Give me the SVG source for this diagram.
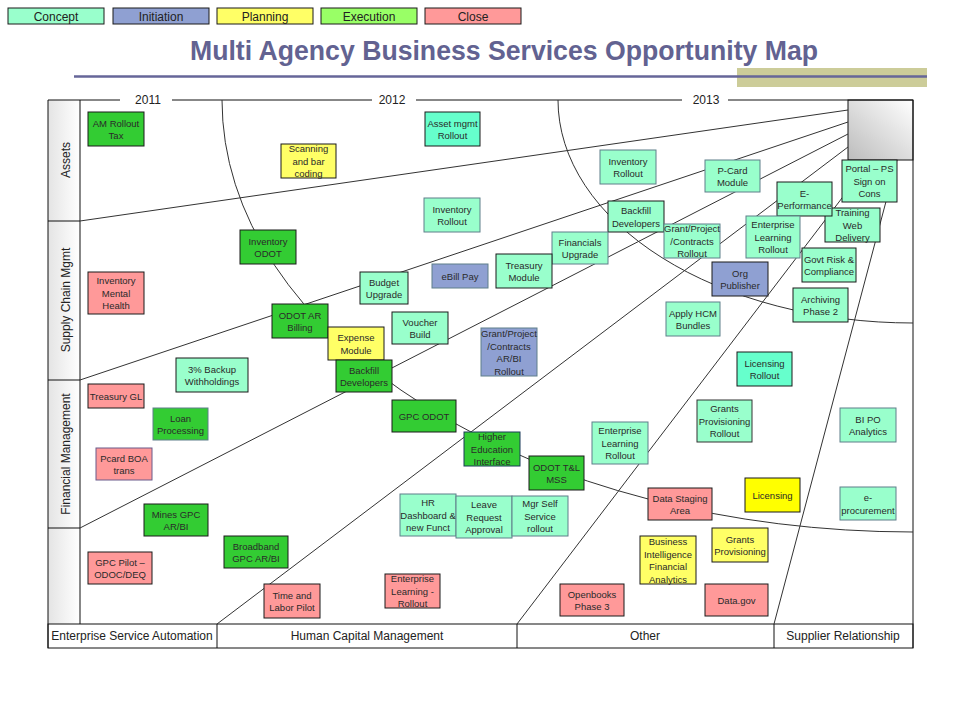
<svg xmlns="http://www.w3.org/2000/svg" width="960" height="720" viewBox="0 0 960 720">
<defs>
<linearGradient id="gBar" x1="0" y1="0" x2="0" y2="1"><stop offset="0" stop-color="#ffffff"/><stop offset="1" stop-color="#dedede"/></linearGradient>
<linearGradient id="gCol" x1="0" y1="0" x2="1" y2="0"><stop offset="0" stop-color="#e4e4e4"/><stop offset="1" stop-color="#ffffff"/></linearGradient>
<linearGradient id="gBox" x1="1" y1="0" x2="0" y2="1"><stop offset="0" stop-color="#ffffff"/><stop offset="1" stop-color="#bcbcbc"/></linearGradient>
</defs>
<style>
.t{font-family:"Liberation Sans",Arial,sans-serif;font-size:9.5px;fill:#2a2a2a;text-anchor:middle}
.lab{font-family:"Liberation Sans",Arial,sans-serif;font-size:12px;fill:#222;text-anchor:middle}
.leg{font-family:"Liberation Sans",Arial,sans-serif;font-size:12px;fill:#222;text-anchor:middle}
.ln{fill:none;stroke:#333;stroke-width:1}
.fr{fill:none;stroke:#111;stroke-width:1}
rect.ex{fill:#33cc33}
rect.co{fill:#99ffcc}
rect.co2{fill:#66ffcc}
rect.in{fill:#8fa0d2}
rect.pl{fill:#ffff66}
rect.pl2{fill:#ffff00}
rect.cl{fill:#ff9999}
rect.dk{stroke:#1a1a1a;stroke-width:1}
rect.gr{stroke:#5f7f8a;stroke-width:1}
</style>
<rect x="0" y="0" width="960" height="720" fill="#ffffff"/>

<g id="legend">
<rect x="8" y="8" width="96" height="16" class="co dk"/><text class="leg" x="56" y="20.5">Concept</text>
<rect x="113" y="8" width="96" height="16" class="in dk"/><text class="leg" x="161" y="20.5">Initiation</text>
<rect x="217" y="8" width="96" height="16" class="pl dk"/><text class="leg" x="265" y="20.5">Planning</text>
<rect x="321" y="8" width="96" height="16" fill="#99ff66" stroke="#1a1a1a"/><text class="leg" x="369" y="20.5">Execution</text>
<rect x="425" y="8" width="96" height="16" class="cl dk"/><text class="leg" x="473" y="20.5">Close</text>
</g>

<g id="title">
<rect x="737" y="68" width="190" height="19" fill="#cccc99"/>
<line x1="74" y1="76.5" x2="927" y2="76.5" stroke="#666699" stroke-width="2.5"/>
<text x="504" y="60" font-family="Liberation Sans,Arial,sans-serif" font-size="27" font-weight="bold" fill="#626291" text-anchor="middle" textLength="628" lengthAdjust="spacingAndGlyphs">Multi Agency Business Services Opportunity Map</text>
</g>

<g id="frame">
<rect x="48" y="100" width="32" height="524" fill="url(#gCol)"/>
<rect x="848" y="100" width="65" height="60" fill="url(#gBox)" stroke="#111"/>
<rect x="48" y="624" width="865" height="24" fill="url(#gBar)" class="fr"/>
<line class="fr" x1="48" y1="100" x2="120" y2="100"/>
<line class="fr" x1="172" y1="100" x2="372" y2="100"/>
<line class="fr" x1="416" y1="100" x2="682" y2="100"/>
<line class="fr" x1="728" y1="100" x2="913" y2="100"/>
<line class="fr" x1="913" y1="100" x2="913" y2="648"/>
<line class="fr" x1="48" y1="100" x2="48" y2="648"/>
<line class="fr" x1="80" y1="100" x2="80" y2="624"/>
<line class="fr" x1="48" y1="221" x2="80" y2="221"/>
<line class="fr" x1="48" y1="380" x2="80" y2="380"/>
<line class="fr" x1="48" y1="528" x2="80" y2="528"/>
<line class="fr" x1="217" y1="624" x2="217" y2="648"/>
<line class="fr" x1="517" y1="624" x2="517" y2="648"/>
<line class="fr" x1="774" y1="624" x2="774" y2="648"/>
<text class="lab" x="148" y="104">2011</text>
<text class="lab" x="392" y="104">2012</text>
<text class="lab" x="706" y="104">2013</text>
<text class="lab" transform="rotate(-90 70 160)" x="70" y="160">Assets</text>
<text class="lab" transform="rotate(-90 70 300)" x="70" y="300">Supply Chain Mgmt</text>
<text class="lab" transform="rotate(-90 70 454)" x="70" y="454">Financial Management</text>
<text class="lab" x="132" y="640">Enterprise Service Automation</text>
<text class="lab" x="367" y="640">Human Capital Management</text>
<text class="lab" x="645" y="640">Other</text>
<text class="lab" x="843" y="640">Supplier Relationship</text>
</g>

<g id="connectors">
<path class="ln" d="M222,100 A691,432 0 0 0 913,532"/>
<path class="ln" d="M558,100 A355,223 0 0 0 913,323"/>
<line class="ln" x1="80" y1="221" x2="848" y2="110"/>
<line class="ln" x1="80" y1="380" x2="848" y2="122"/>
<line class="ln" x1="80" y1="528" x2="848" y2="134"/>
<line class="ln" x1="217" y1="624" x2="848" y2="147"/>
<line class="ln" x1="517" y1="624" x2="871" y2="160"/>
<line class="ln" x1="774" y1="624" x2="897" y2="160"/>
</g>

<g id="n-am-rollout"><rect x="88" y="112" width="56" height="34" class="ex dk"/><text class="t"><tspan x="116" y="126.5">AM Rollout</tspan><tspan x="116" y="139">Tax</tspan></text></g>
<g id="n-scanning"><rect x="281" y="144" width="55" height="34" class="pl dk"/><text class="t"><tspan x="308.5" y="152.2">Scanning</tspan><tspan x="308.5" y="164.7">and bar</tspan><tspan x="308.5" y="177.2">coding</tspan></text></g>
<g id="n-asset-mgmt"><rect x="425" y="112" width="55" height="34" class="co2 dk"/><text class="t"><tspan x="452.5" y="126.5">Asset mgmt</tspan><tspan x="452.5" y="139">Rollout</tspan></text></g>
<g id="n-inv-rollout-1"><rect x="424" y="198" width="56" height="34" class="co gr"/><text class="t"><tspan x="452" y="212.5">Inventory</tspan><tspan x="452" y="225">Rollout</tspan></text></g>
<g id="n-inv-rollout-2"><rect x="600" y="150" width="56" height="34" class="co gr"/><text class="t"><tspan x="628" y="164.5">Inventory</tspan><tspan x="628" y="177">Rollout</tspan></text></g>
<g id="n-pcard"><rect x="705" y="160" width="55" height="32" class="co gr"/><text class="t"><tspan x="732.5" y="173.5">P-Card</tspan><tspan x="732.5" y="186">Module</tspan></text></g>
<g id="n-training"><rect x="825" y="208" width="55" height="34" class="co dk"/><text class="t"><tspan x="852.5" y="216.2">Training</tspan><tspan x="852.5" y="228.7">Web</tspan><tspan x="852.5" y="241.2">Delivery</tspan></text></g>
<g id="n-eperf"><rect x="777" y="182" width="55" height="34" class="co dk"/><text class="t"><tspan x="804.5" y="196.5">E-</tspan><tspan x="804.5" y="209">Performance</tspan></text></g>
<g id="n-portal"><rect x="842" y="160" width="55" height="42" class="co dk"/><text class="t"><tspan x="869.5" y="172.2">Portal – PS</tspan><tspan x="869.5" y="184.7">Sign on</tspan><tspan x="869.5" y="197.2">Cons</tspan></text></g>
<g id="n-backfill-upper"><rect x="608" y="201" width="56" height="31" class="co dk"/><text class="t"><tspan x="636" y="214">Backfill</tspan><tspan x="636" y="226.5">Developers</tspan></text></g>
<g id="n-financials"><rect x="552" y="232" width="56" height="32" class="co gr"/><text class="t"><tspan x="580" y="245.5">Financials</tspan><tspan x="580" y="258">Upgrade</tspan></text></g>
<g id="n-treasury-module"><rect x="496" y="254" width="56" height="34" class="co dk"/><text class="t"><tspan x="524" y="268.5">Treasury</tspan><tspan x="524" y="281">Module</tspan></text></g>
<g id="n-grant-rollout"><rect x="664" y="224" width="56" height="34" class="co gr"/><text class="t"><tspan x="692" y="232.2">Grant/Project</tspan><tspan x="692" y="244.7">/Contracts</tspan><tspan x="692" y="257.2">Rollout</tspan></text></g>
<g id="n-ent-learn-upper"><rect x="746" y="216" width="54" height="42" class="co gr"/><text class="t"><tspan x="773" y="228.2">Enterprise</tspan><tspan x="773" y="240.7">Learning</tspan><tspan x="773" y="253.2">Rollout</tspan></text></g>
<g id="n-org-pub"><rect x="712" y="262" width="56" height="34" class="in dk"/><text class="t"><tspan x="740" y="276.5">Org</tspan><tspan x="740" y="289">Publisher</tspan></text></g>
<g id="n-govt-risk"><rect x="802" y="248" width="54" height="34" class="co dk"/><text class="t"><tspan x="829" y="262.5">Govt Risk &amp;</tspan><tspan x="829" y="275">Compliance</tspan></text></g>
<g id="n-archiving"><rect x="793" y="288" width="55" height="34" class="co dk"/><text class="t"><tspan x="820.5" y="302.5">Archiving</tspan><tspan x="820.5" y="315">Phase 2</tspan></text></g>
<g id="n-apply-hcm"><rect x="666" y="302" width="54" height="34" class="co gr"/><text class="t"><tspan x="693" y="316.5">Apply HCM</tspan><tspan x="693" y="329">Bundles</tspan></text></g>
<g id="n-inv-odot"><rect x="240" y="230" width="56" height="34" class="ex dk"/><text class="t"><tspan x="268" y="244.5">Inventory</tspan><tspan x="268" y="257">ODOT</tspan></text></g>
<g id="n-inv-mental"><rect x="88" y="272" width="56" height="42" class="cl dk"/><text class="t"><tspan x="116" y="284.2">Inventory</tspan><tspan x="116" y="296.7">Mental</tspan><tspan x="116" y="309.2">Health</tspan></text></g>
<g id="n-budget"><rect x="360" y="272" width="48" height="32" class="co dk"/><text class="t"><tspan x="384" y="285.5">Budget</tspan><tspan x="384" y="298">Upgrade</tspan></text></g>
<g id="n-ebill"><rect x="432" y="264" width="56" height="24" class="in gr"/><text class="t" x="460" y="279.7">eBill Pay</text></g>
<g id="n-odot-ar"><rect x="272" y="304" width="56" height="34" class="ex dk"/><text class="t"><tspan x="300" y="318.5">ODOT AR</tspan><tspan x="300" y="331">Billing</tspan></text></g>
<g id="n-voucher"><rect x="392" y="312" width="56" height="32" class="co dk"/><text class="t"><tspan x="420" y="325.5">Voucher</tspan><tspan x="420" y="338">Build</tspan></text></g>
<g id="n-expense"><rect x="328" y="327" width="56" height="33" class="pl dk"/><text class="t"><tspan x="356" y="341">Expense</tspan><tspan x="356" y="353.5">Module</tspan></text></g>
<g id="n-backfill-lower"><rect x="336" y="360" width="56" height="32" class="ex dk"/><text class="t"><tspan x="364" y="373.5">Backfill</tspan><tspan x="364" y="386">Developers</tspan></text></g>
<g id="n-grant-arbi"><rect x="481" y="328" width="56" height="48" class="in gr"/><text class="t"><tspan x="509" y="337">Grant/Project</tspan><tspan x="509" y="349.5">/Contracts</tspan><tspan x="509" y="362">AR/BI</tspan><tspan x="509" y="374.5">Rollout</tspan></text></g>
<g id="n-3pct"><rect x="176" y="358" width="72" height="34" class="co dk"/><text class="t"><tspan x="212" y="372.5">3% Backup</tspan><tspan x="212" y="385">Withholdings</tspan></text></g>
<g id="n-treasury-gl"><rect x="88" y="384" width="56" height="24" class="cl dk"/><text class="t" x="116" y="399.7">Treasury GL</text></g>
<g id="n-loan"><rect x="153" y="408" width="55" height="32" class="ex gr"/><text class="t"><tspan x="180.5" y="421.5">Loan</tspan><tspan x="180.5" y="434">Processing</tspan></text></g>
<g id="n-pcard-boa"><rect x="96" y="448" width="56" height="32" class="cl" stroke="#6a5a8a"/><text class="t"><tspan x="124" y="461.5">Pcard BOA</tspan><tspan x="124" y="474">trans</tspan></text></g>
<g id="n-gpc-odot"><rect x="392" y="400" width="64" height="32" class="ex dk"/><text class="t" x="424" y="419.7">GPC ODOT</text></g>
<g id="n-higher-ed"><rect x="464" y="432" width="56" height="34" class="ex" stroke="#1a3a5a"/><text class="t"><tspan x="492" y="440.2">Higher</tspan><tspan x="492" y="452.7">Education</tspan><tspan x="492" y="465.2">Interface</tspan></text></g>
<g id="n-odot-tl"><rect x="529" y="456" width="55" height="34" class="ex dk"/><text class="t"><tspan x="556.5" y="470.5">ODOT T&amp;L</tspan><tspan x="556.5" y="483">MSS</tspan></text></g>
<g id="n-ent-learn-mid"><rect x="592" y="422" width="56" height="42" class="co gr"/><text class="t"><tspan x="620" y="434.2">Enterprise</tspan><tspan x="620" y="446.7">Learning</tspan><tspan x="620" y="459.2">Rollout</tspan></text></g>
<g id="n-licensing-rollout"><rect x="737" y="352" width="55" height="34" class="co2 dk"/><text class="t"><tspan x="764.5" y="366.5">Licensing</tspan><tspan x="764.5" y="379">Rollout</tspan></text></g>
<g id="n-grants-prov-rollout"><rect x="697" y="400" width="55" height="42" class="co" stroke="#333"/><text class="t"><tspan x="724.5" y="412.2">Grants</tspan><tspan x="724.5" y="424.7">Provisioning</tspan><tspan x="724.5" y="437.2">Rollout</tspan></text></g>
<g id="n-bi-po"><rect x="840" y="408" width="56" height="34" class="co gr"/><text class="t"><tspan x="868" y="422.5">BI PO</tspan><tspan x="868" y="435">Analytics</tspan></text></g>
<g id="n-data-staging"><rect x="648" y="488" width="64" height="32" class="cl dk"/><text class="t"><tspan x="680" y="501.5">Data Staging</tspan><tspan x="680" y="514">Area</tspan></text></g>
<g id="n-licensing"><rect x="745" y="478" width="55" height="34" class="pl2 dk"/><text class="t" x="772.5" y="498.7">Licensing</text></g>
<g id="n-eproc"><rect x="840" y="487" width="56" height="33" class="co gr"/><text class="t"><tspan x="868" y="501">e-</tspan><tspan x="868" y="513.5">procurement</tspan></text></g>
<g id="n-mines"><rect x="144" y="504" width="64" height="32" class="ex dk"/><text class="t"><tspan x="176" y="517.5">Mines GPC</tspan><tspan x="176" y="530">AR/BI</tspan></text></g>
<g id="n-broadband"><rect x="224" y="536" width="64" height="32" class="ex dk"/><text class="t"><tspan x="256" y="549.5">Broadband</tspan><tspan x="256" y="562">GPC AR/BI</tspan></text></g>
<g id="n-gpc-pilot"><rect x="88" y="552" width="64" height="32" class="cl dk"/><text class="t"><tspan x="120" y="565.5">GPC Pilot –</tspan><tspan x="120" y="578">ODOC/DEQ</tspan></text></g>
<g id="n-time-labor"><rect x="264" y="584" width="56" height="34" class="cl dk"/><text class="t"><tspan x="292" y="598.5">Time and</tspan><tspan x="292" y="611">Labor Pilot</tspan></text></g>
<g id="n-hr-dash"><rect x="400" y="494" width="56" height="42" class="co gr"/><text class="t"><tspan x="428" y="506.2">HR</tspan><tspan x="428" y="518.7">Dashboard &amp;</tspan><tspan x="428" y="531.2">new Funct</tspan></text></g>
<g id="n-leave"><rect x="456" y="496" width="56" height="42" class="co gr"/><text class="t"><tspan x="484" y="508.2">Leave</tspan><tspan x="484" y="520.7">Request</tspan><tspan x="484" y="533.2">Approval</tspan></text></g>
<g id="n-mgr-self"><rect x="512" y="496" width="56" height="40" class="co gr"/><text class="t"><tspan x="540" y="507.2">Mgr Self</tspan><tspan x="540" y="519.7">Service</tspan><tspan x="540" y="532.2">rollout</tspan></text></g>
<g id="n-ent-learn-bottom"><rect x="385" y="574" width="55" height="34" class="cl dk"/><text class="t"><tspan x="412.5" y="582.2">Enterprise</tspan><tspan x="412.5" y="594.7">Learning  -</tspan><tspan x="412.5" y="607.2">Rollout</tspan></text></g>
<g id="n-openbooks"><rect x="560" y="584" width="64" height="32" class="cl dk"/><text class="t"><tspan x="592" y="597.5">Openbooks</tspan><tspan x="592" y="610">Phase 3</tspan></text></g>
<g id="n-bi-fin"><rect x="640" y="536" width="56" height="48" class="pl dk"/><text class="t"><tspan x="668" y="545">Business</tspan><tspan x="668" y="557.5">Intelligence</tspan><tspan x="668" y="570">Financial</tspan><tspan x="668" y="582.5">Analytics</tspan></text></g>
<g id="n-grants-prov"><rect x="712" y="528" width="56" height="34" class="pl dk"/><text class="t"><tspan x="740" y="542.5">Grants</tspan><tspan x="740" y="555">Provisioning</tspan></text></g>
<g id="n-datagov"><rect x="705" y="584" width="63" height="32" class="cl dk"/><text class="t" x="736.5" y="603.7">Data.gov</text></g>
</svg>
